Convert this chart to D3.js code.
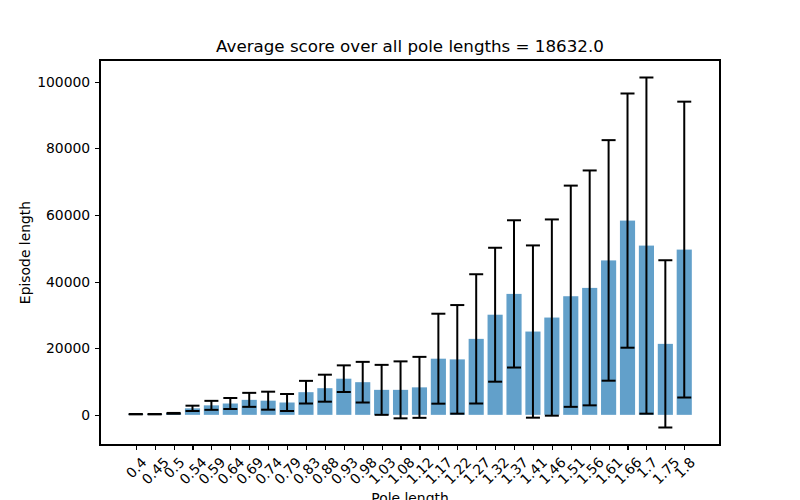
<!DOCTYPE html>
<head>
<meta charset="utf-8">
<title>Average score over pole lengths</title>
<style>
    body { margin: 0; background: white; }
    text { font-family: "DejaVu Sans", sans-serif; fill: black; }
    .axis text { font-size: 13.9px; }
    .axis path, .axis line { stroke: black; stroke-width: 1.1px; shape-rendering: crispEdges; }
    .bar { fill: #1f77b4; fill-opacity: 0.7; }
    .err line { stroke: black; stroke-width: 2px; }
</style>
</head>
<body>
<svg></svg>
<script src="https://cdn.jsdelivr.net/npm/d3@7"></script>
<script>

    // pole lengths (x tick labels)
    var poleLengths = ["0.4", "0.45", "0.5", "0.54", "0.59", "0.64", "0.69", "0.74", "0.79", "0.83",
        "0.88", "0.93", "0.98", "1.03", "1.08", "1.12", "1.17", "1.22", "1.27", "1.32",
        "1.37", "1.41", "1.46", "1.51", "1.56", "1.61", "1.66", "1.7", "1.75", "1.8"]

    // mean episode length per pole length
    var meanScores = [200, 200, 450, 1950, 2850, 3400, 4500, 4250, 3700, 6800,
        8000, 10850, 9800, 7500, 7500, 8250, 16850, 16650, 22800, 30050,
        36300, 25000, 29200, 35600, 38100, 46350, 58300, 50800, 21300, 49600]

    // standard deviation (error bar half-length)
    var stdScores = [60, 60, 120, 800, 1350, 1650, 2100, 2700, 2550, 3400,
        4050, 4000, 6100, 7500, 8550, 9150, 13500, 16300, 19400, 20100,
        22100, 25850, 29450, 33200, 35250, 36100, 38150, 50450, 25100, 44400]

    var yTicks = [0, 20000, 40000, 60000, 80000, 100000]

    var title = "Average score over all pole lengths = 18632.0"

    var svg = d3.select("svg")
        .attr("width", 800)
        .attr("height", 500)

    var margin = {top: 60, right: 80, bottom: 55, left: 100},
        width = 800 - margin.left - margin.right,
        height = 500 - margin.top - margin.bottom

    var g = svg.append("g")
        .attr("transform", "translate(" + margin.left + "," + margin.top + ")");

    // x: bar index, matplotlib style 5% margins around bar edges
    var n = poleLengths.length
    var xLo = -0.4, xHi = n - 1 + 0.4, xPad = (xHi - xLo) * 0.05
    var x = d3.scaleLinear()
        .domain([xLo - xPad, xHi + xPad])
        .range([0, width])
    var barW = x(0.8) - x(0)

    var lows = meanScores.map(function (d, i) { return d - stdScores[i] })
    var highs = meanScores.map(function (d, i) { return d + stdScores[i] })
    var yLo = Math.min(0, d3.min(lows)), yHi = d3.max(highs), yPad = (yHi - yLo) * 0.05
    var y = d3.scaleLinear()
        .domain([yLo - yPad, yHi + yPad])
        .range([height, 0])

    // bars
    g.selectAll(".bar")
        .data(meanScores)
        .enter().append("rect")
        .attr("class", "bar")
        .attr("x", function (d, i) { return x(i) - barW / 2 })
        .attr("width", barW)
        .attr("y", function (d) { return y(d) })
        .attr("height", function (d) { return y(0) - y(d) })

    // error bars
    var err = g.selectAll(".err")
        .data(meanScores)
        .enter().append("g")
        .attr("class", "err")

    err.append("line")
        .attr("x1", function (d, i) { return x(i) })
        .attr("x2", function (d, i) { return x(i) })
        .attr("y1", function (d, i) { return y(lows[i]) })
        .attr("y2", function (d, i) { return y(highs[i]) })

    var cap = 7
    err.append("line")
        .attr("x1", function (d, i) { return x(i) - cap })
        .attr("x2", function (d, i) { return x(i) + cap })
        .attr("y1", function (d, i) { return y(highs[i]) })
        .attr("y2", function (d, i) { return y(highs[i]) })
    err.append("line")
        .attr("x1", function (d, i) { return x(i) - cap })
        .attr("x2", function (d, i) { return x(i) + cap })
        .attr("y1", function (d, i) { return y(lows[i]) })
        .attr("y2", function (d, i) { return y(lows[i]) })

    // y axis
    g.append("g")
        .attr("class", "axis axis--y")
        .call(d3.axisLeft(y).tickValues(yTicks).tickFormat(d3.format("d"))
            .tickSizeInner(4.9).tickSizeOuter(0).tickPadding(4.9))

    // x axis, labels rotated 45 deg and centred like matplotlib
    var xAxis = g.append("g")
        .attr("class", "axis axis--x")
        .attr("transform", "translate(0," + height + ")")
        .call(d3.axisBottom(x).tickValues(d3.range(n)).tickSizeInner(4.9).tickSizeOuter(0)
            .tickFormat(function (i) { return poleLengths[i] }))

    var maxBottom = 0
    xAxis.selectAll(".tick text")
        .attr("dy", null)
        .attr("y", 0)
        .attr("dominant-baseline", "central")
        .attr("text-anchor", "middle")
        .each(function () {
            var w = this.getComputedTextLength(), h = 14
            var half = (w + h) * Math.SQRT1_2 / 2
            var top = 4.9 + 4.9
            d3.select(this).attr("transform", "translate(0," + (top + half) + ") rotate(-45)")
            maxBottom = Math.max(maxBottom, top + 2 * half)
        })

    // frame
    g.append("rect")
        .attr("width", width)
        .attr("height", height)
        .attr("fill", "none")
        .attr("stroke", "black")
        .attr("stroke-width", 1.1)
        .attr("shape-rendering", "crispEdges")

    g.append("text")
        .attr("x", width / 2)
        .attr("y", height + maxBottom + 5.6)
        .attr("dy", "0.8em")
        .attr("text-anchor", "middle")
        .style("font-size", "13.9px")
        .text("Pole length")

    g.append("text")
        .attr("transform", "translate(" + (-75) + "," + (height / 2) + ") rotate(-90)")
        .attr("text-anchor", "middle")
        .attr("dominant-baseline", "central")
        .style("font-size", "13.9px")
        .text("Episode length")

    g.append("text")
        .attr("x", width / 2)
        .attr("y", -8.3)
        .attr("text-anchor", "middle")
        .style("font-size", "16.7px")
        .text(title)
</script>
</body>
